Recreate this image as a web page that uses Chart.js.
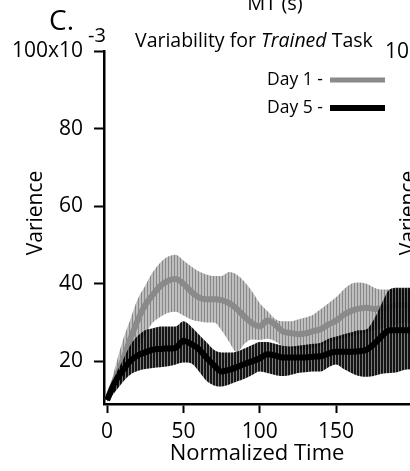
<!DOCTYPE html>
<html>
<head>
<meta charset="utf-8">
<script src="https://cdn.jsdelivr.net/npm/chart.js@4"></script>
<style>
  html, body { margin: 0; padding: 0; background: #fff; overflow: hidden; }
  canvas { display: block; }
</style>
</head>
<body>
<canvas id="myChart" width="410" height="471"></canvas>
<script>
// normalized time points (0..200)
const time = [0, 5, 10, 15, 20, 25, 30, 35, 40, 45, 50, 55, 60, 65, 70, 75, 80, 85, 90, 95,
    100, 105, 110, 115, 120, 125, 130, 135, 140, 145, 150, 155, 160, 165, 170, 175, 180, 185, 190, 195, 200];

// Day 1 (grey) - mean and band
const day1Mean = [10, 15, 20, 25.5, 30.5, 34.5, 37.2, 39.5, 40.8, 41.2, 40, 38, 36.5, 36, 36, 35.8, 35, 33.5, 31.5, 29.8,
    29, 30.5, 29.5, 27.7, 27.3, 27, 27.2, 27.8, 28.3, 29.5, 30.5, 32, 33, 33.6, 33.8, 33.5, 33.6, 34, 34.5, 34.5, 34.5];
const day1Upper = [10, 18, 25, 30.5, 36, 39.5, 43, 45.5, 47, 47.5, 46, 44.5, 43.2, 42.4, 42, 42, 43, 42.3, 40.5, 38,
    35, 33, 31, 30.3, 30.3, 30.8, 31.3, 32, 33.5, 35, 36.5, 38.5, 40, 40.3, 40, 39, 38.5, 38.5, 38.5, 38.5, 38.5];
const day1Lower = [10, 12, 15, 19, 23, 27, 30, 31.5, 32.5, 32.8, 31.8, 30.8, 30.3, 30, 30, 28, 25, 22.3, 24.5, 25.6,
    25.5, 25.8, 25.2, 24, 23.5, 23.2, 23, 23.5, 24, 25, 25.5, 26, 26.5, 27, 27.5, 28, 28.5, 29, 29.5, 30, 30];

// Day 5 (black) - mean and band
const day5Mean = [10, 14.5, 17.5, 20, 21.5, 22.3, 23, 23.2, 23.3, 23.5, 25.3, 24.5, 23.2, 21, 19, 17.4, 17.8, 18.5, 19.3, 20,
    20.8, 21.8, 21.5, 21, 21, 21, 21, 21.2, 21.3, 22, 22.5, 22.5, 22.5, 22.6, 23, 24.5, 26.5, 28, 28, 28, 28];
const day5Upper = [10, 16, 20, 24, 26.5, 28, 28.5, 29, 29, 29, 30.3, 29, 27, 25, 23, 22.3, 22.3, 22.5, 23.3, 24.2,
    25, 25, 24.5, 24, 23.8, 24, 24.3, 24.5, 24.8, 25.8, 26.4, 27, 27.5, 28, 28.3, 31, 35, 38.5, 39, 39, 39];
const day5Lower = [9.5, 12, 14.5, 16.5, 17.5, 18, 18.3, 18.5, 18.7, 19.2, 19.7, 19.5, 17.5, 15, 13.8, 13.5, 14, 14.8, 15.5, 16.5,
    17.4, 17, 16.5, 16.2, 16.5, 17, 17.2, 17.4, 17.4, 18.5, 19.2, 18, 17, 16.2, 16, 16.3, 16.8, 17, 17.2, 17.8, 18];

const xTicks = [0, 50, 100, 150];
const yTicks = [20, 40, 60, 80, 100];

const FONT = "'Open Sans', 'Noto Sans', sans-serif";

// vertical hatching for the bands
function stripes(colors) {
    const c = document.createElement('canvas');
    c.width = colors.length;
    c.height = 4;
    const g = c.getContext('2d');
    colors.forEach((col, i) => {
        g.fillStyle = col;
        g.fillRect(i, 0, 1, 4);
    });
    return g.createPattern(c, 'repeat');
}
const greyHatch = stripes(['#888888', '#bebebe', '#bebebe']);
const blackHatch = stripes(['rgba(0,0,0,0.92)', 'rgba(0,0,0,0.92)', 'rgba(90,90,90,0.8)']);

function pts(arr) {
    return time.map((t, i) => ({ x: t, y: arr[i] }));
}

// extra labels, legend and superscript
const annotate = {
    id: 'annotate',
    afterDraw(chart) {
        const ctx = chart.ctx;
        const ys = chart.scales.y;
        ctx.save();
        ctx.fillStyle = '#000';
        ctx.textBaseline = 'alphabetic';

        ctx.font = '28px ' + FONT;
        ctx.textAlign = 'left';
        ctx.fillText('C.', 49, 30);

        ctx.font = '20px ' + FONT;
        ctx.textAlign = 'center';
        ctx.fillText('MT (s)', 275, 10);

        // exponent of the top tick
        ctx.font = '20px ' + FONT;
        ctx.textAlign = 'left';
        ctx.fillText('-3', 88, 42);

        // title with italic word
        const parts = [['Variability for ', ''], ['Trained', 'italic '], [' Task', '']];
        let x = 135;
        parts.forEach(([txt, style]) => {
            ctx.font = style + '19.5px ' + FONT;
            ctx.fillText(txt, x, 47);
            x += ctx.measureText(txt).width;
        });

        // neighbour panel, clipped at the edge
        ctx.font = '21px ' + FONT;
        ctx.fillText('100x10', 385, ys.getPixelForValue(100) + 7);

        // y titles
        ctx.font = '21px ' + FONT;
        ctx.textAlign = 'center';
        ctx.save();
        ctx.translate(42, 213);
        ctx.rotate(-Math.PI / 2);
        ctx.fillText('Varience', 0, 0);
        ctx.restore();
        ctx.save();
        ctx.translate(415, 213);
        ctx.rotate(-Math.PI / 2);
        ctx.fillText('Varience', 0, 0);
        ctx.restore();

        // legend
        const legend = [['Day 1 -', '#8a8a8a', 5, 80], ['Day 5 -', '#000', 6, 108]];
        ctx.font = '17.5px ' + FONT;
        ctx.textAlign = 'right';
        ctx.textBaseline = 'middle';
        legend.forEach(([label, color, w, y]) => {
            ctx.fillStyle = '#000';
            ctx.fillText(label, 323, y);
            ctx.strokeStyle = color;
            ctx.lineWidth = w;
            ctx.beginPath();
            ctx.moveTo(330, y);
            ctx.lineTo(385, y);
            ctx.stroke();
        });
        ctx.restore();
    }
};

const ctx = document.getElementById('myChart').getContext('2d');
const myChart = new Chart(ctx, { // eslint-disable-line
    type: 'line',
    data: {
        datasets: [
            { data: pts(day5Mean), borderColor: '#000', borderWidth: 6, pointRadius: 0, fill: false },
            { data: pts(day5Upper), borderWidth: 0, pointRadius: 0, fill: '+1', backgroundColor: blackHatch },
            { data: pts(day5Lower), borderWidth: 0, pointRadius: 0, fill: false },
            { data: pts(day1Mean), borderColor: '#8a8a8a', borderWidth: 6, pointRadius: 0, fill: false },
            { data: pts(day1Upper), borderWidth: 0, pointRadius: 0, fill: '+1', backgroundColor: greyHatch },
            { data: pts(day1Lower), borderWidth: 0, pointRadius: 0, fill: false }
        ]
    },
    options: {
        responsive: false,
        animation: false,
        events: [],
        cubicInterpolationMode: 'monotone',
        layout: { padding: { top: 51, right: 0, left: 0, bottom: 0 } },
        plugins: {
            legend: { display: false },
            tooltip: { enabled: false }
        },
        scales: {
            x: {
                type: 'linear',
                min: -2,
                max: 198.4,
                afterBuildTicks: (s) => { s.ticks = xTicks.map(v => ({ value: v })); },
                afterFit: (s) => { s.height = 67; },
                grid: { drawOnChartArea: false, tickLength: 9, tickWidth: 2, tickColor: '#000' },
                border: { display: true, color: '#000', width: 2.5 },
                ticks: { color: '#000', padding: 6, maxRotation: 0, font: { family: FONT, size: 21 } },
                title: {
                    display: true,
                    text: 'Normalized Time',
                    color: '#000',
                    font: { family: FONT, size: 22 },
                    padding: { top: 0, bottom: 4 }
                }
            },
            y: {
                min: 9,
                max: 100,
                afterBuildTicks: (s) => { s.ticks = yTicks.map(v => ({ value: v })); },
                afterFit: (s) => { s.width = 104; },
                grid: { drawOnChartArea: false, tickLength: 10, tickWidth: 2, tickColor: '#000' },
                border: { display: true, color: '#000', width: 2.5 },
                ticks: {
                    color: '#000',
                    padding: 11,
                    font: { family: FONT, size: 21 },
                    callback: (v) => (v === 100 ? '100x10' : String(v))
                }
            }
        }
    },
    plugins: [annotate]
});
</script>
</body>
</html>
